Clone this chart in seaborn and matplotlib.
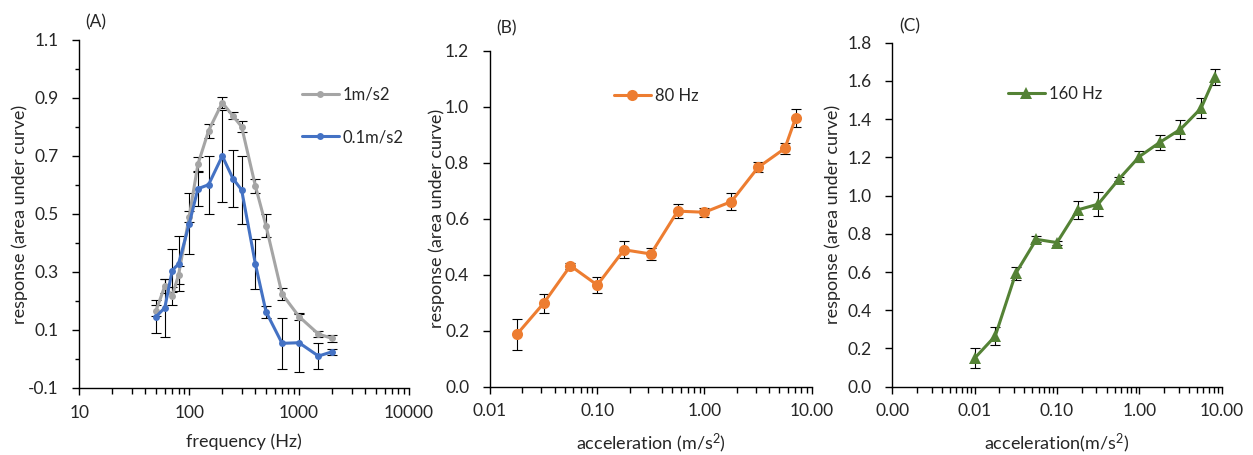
import matplotlib
matplotlib.use("Agg")
import matplotlib.pyplot as plt
import matplotlib.ticker as mticker
import seaborn as sns
import numpy as np

# panel A: response vs frequency
freq = [50, 60, 70, 80, 100, 120, 150, 200, 250, 300, 400, 500, 700, 1000, 1500, 2000]
resp_1 = [0.167, 0.252, 0.217, 0.290, 0.491, 0.671, 0.787, 0.884, 0.838, 0.801,
          0.597, 0.459, 0.224, 0.146, 0.086, 0.071]
err_1 = [0.02, 0.025, 0.03, 0.03, 0.02, 0.025, 0.024, 0.018, 0.012, 0.018,
         0.025, 0.04, 0.02, 0.012, 0.01, 0.012]
resp_01 = [0.146, 0.177, 0.305, 0.328, 0.466, 0.587, 0.601, 0.700, 0.622, 0.583,
           0.328, 0.163, 0.054, 0.056, 0.010, 0.025]
err_01 = [0.058, 0.10, 0.075, 0.095, 0.105, 0.06, 0.10, 0.157, 0.098, 0.117,
          0.085, 0.02, 0.088, 0.10, 0.045, 0.01]

# panel B: 80 Hz
accel_b = [0.0178, 0.0316, 0.0562, 0.1, 0.178, 0.316, 0.562, 1.0, 1.78, 3.16, 5.62, 7.1]
resp_80 = [0.187, 0.298, 0.432, 0.363, 0.489, 0.474, 0.627, 0.623, 0.661, 0.783, 0.851, 0.961]
err_80 = [0.055, 0.033, 0.01, 0.028, 0.03, 0.021, 0.026, 0.016, 0.031, 0.018, 0.02, 0.032]

# panel C: 160 Hz
accel_c = [0.01, 0.0178, 0.0316, 0.0562, 0.1, 0.178, 0.316, 0.562, 1.0, 1.78, 3.16, 5.62, 8.3]
resp_160 = [0.149, 0.265, 0.593, 0.771, 0.754, 0.925, 0.955, 1.085, 1.204, 1.279,
            1.347, 1.457, 1.622]
err_160 = [0.052, 0.047, 0.033, 0.015, 0.01, 0.048, 0.063, 0.01, 0.03, 0.04,
           0.05, 0.052, 0.042]

GRAY, BLUE, ORANGE, GREEN = '#A5A5A5', '#4472C4', '#ED7D31', '#548235'
TXT = '#262626'

sns.set_style('ticks')
plt.rcParams['font.family'] = ['Lato', 'DejaVu Sans']
plt.rcParams['mathtext.default'] = 'regular'
plt.rcParams['text.color'] = TXT
plt.rcParams['axes.labelcolor'] = TXT
plt.rcParams['xtick.color'] = 'black'
plt.rcParams['ytick.color'] = 'black'
plt.rcParams['xtick.labelcolor'] = TXT
plt.rcParams['ytick.labelcolor'] = TXT

fig = plt.figure(figsize=(12.53, 4.55), dpi=100)
axA = fig.add_axes([0.0633, 0.1473, 0.2631, 0.7648])
axB = fig.add_axes([0.3911, 0.1501, 0.2567, 0.7385])
axC = fig.add_axes([0.7121, 0.1501, 0.2629, 0.7561])


def style_axis(ax, xlim, ylim, yticks, fmt_x):
    ax.set_xscale('log')
    ax.set_xlim(*xlim)
    ax.set_ylim(*ylim)
    ax.set_yticks(yticks)
    ax.yaxis.set_major_formatter(mticker.FormatStrFormatter('%.1f'))
    ax.xaxis.set_major_locator(mticker.LogLocator(base=10, numticks=10))
    ax.xaxis.set_minor_locator(mticker.LogLocator(base=10, subs=np.arange(2, 10), numticks=20))
    ax.xaxis.set_major_formatter(mticker.FuncFormatter(fmt_x))
    ax.xaxis.set_minor_formatter(mticker.NullFormatter())
    ax.tick_params(axis='x', which='major', length=5, width=1, pad=7, labelsize=12.5)
    ax.tick_params(axis='x', which='minor', length=4, width=1)
    ax.tick_params(axis='y', which='major', length=5, width=1, pad=10, labelsize=12.5)
    for s in ['top', 'right']:
        ax.spines[s].set_visible(False)
    for s in ['left', 'bottom']:
        ax.spines[s].set_color('black')
        ax.spines[s].set_linewidth(1)
    ax.set_ylabel('response (area under curve)', fontsize=13)


# ---- A ----
for y, e, c, lab in [(resp_1, err_1, GRAY, '1m/s2'), (resp_01, err_01, BLUE, '0.1m/s2')]:
    axA.errorbar(freq, y, yerr=e, fmt='none', ecolor='black', elinewidth=0.8,
                 capsize=3.5, capthick=0.8, zorder=2)
    sns.lineplot(x=freq, y=y, ax=axA, color=c, marker='o', markersize=5,
                 markeredgewidth=0, linewidth=2.2, label=lab, zorder=3)
style_axis(axA, (10, 10000), (-0.1, 1.1), np.arange(-0.1, 1.11, 0.2),
           lambda v, p: f'{v:g}')
axA.yaxis.set_minor_locator(mticker.FixedLocator(np.arange(0.0, 1.01, 0.2)))
axA.tick_params(axis='y', which='minor', length=3, width=1)
axA.set_xlabel('frequency (Hz)', fontsize=13, labelpad=9)
axA.yaxis.set_label_coords(-0.155, 0.5)
axA.legend(loc='center left', bbox_to_anchor=(0.675, 0.782), frameon=False,
           fontsize=12, handlelength=2.2, labelspacing=1.6, borderpad=0,
           borderaxespad=0, handletextpad=0.25)
fig.text(85 / 1253, 1 - 22 / 455, '(A)', fontsize=12.5, va='center', ha='left')

# ---- B ----
axB.errorbar(accel_b, resp_80, yerr=err_80, fmt='none', ecolor='black', elinewidth=0.8,
             capsize=3.5, capthick=0.8, zorder=2)
sns.lineplot(x=accel_b, y=resp_80, ax=axB, color=ORANGE, marker='o', markersize=8,
             markeredgewidth=0, linewidth=2.2, label='80 Hz', zorder=3)
style_axis(axB, (0.01, 10), (0, 1.2), np.arange(0, 1.21, 0.2),
           lambda v, p: f'{v:.2f}')
axB.set_xlabel('acceleration (m/s$^{2}$)', fontsize=13, labelpad=9)
axB.yaxis.set_label_coords(-0.14, 0.5)
axB.legend(loc='center left', bbox_to_anchor=(0.385, 0.865), frameon=False,
           fontsize=12, handlelength=2.2, borderpad=0, borderaxespad=0,
           handletextpad=0.25)
fig.text(496 / 1253, 1 - 28 / 455, '(B)', fontsize=12.5, va='center', ha='left')

# ---- C ----
axC.errorbar(accel_c, resp_160, yerr=err_160, fmt='none', ecolor='black', elinewidth=0.8,
             capsize=3.5, capthick=0.8, zorder=2)
sns.lineplot(x=accel_c, y=resp_160, ax=axC, color=GREEN, marker='^', markersize=9,
             markeredgewidth=0, linewidth=2.2, label='160 Hz', zorder=3)
style_axis(axC, (0.001, 10), (0, 1.8), np.arange(0, 1.81, 0.2),
           lambda v, p: f'{v:.2f}')
axC.set_xlabel('acceleration(m/s$^{2}$)', fontsize=13, labelpad=9)
axC.yaxis.set_label_coords(-0.155, 0.5)
axC.legend(loc='center left', bbox_to_anchor=(0.351, 0.851), frameon=False,
           fontsize=12, handlelength=2.2, borderpad=0, borderaxespad=0,
           handletextpad=0.25)
fig.text(899 / 1253, 1 - 26 / 455, '(C)', fontsize=12.5, va='center', ha='left')

fig.savefig('out.png', dpi=100)
